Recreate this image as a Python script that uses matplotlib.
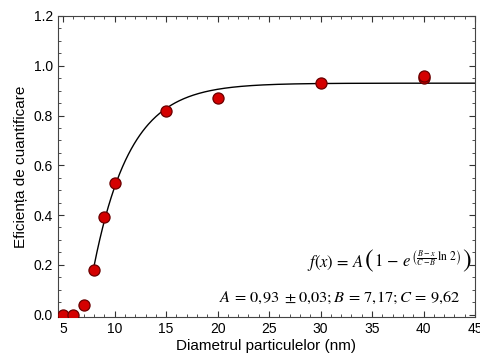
import numpy as np
import matplotlib
matplotlib.use("Agg")
import matplotlib.pyplot as plt
from matplotlib.ticker import MultipleLocator
from matplotlib.offsetbox import TextArea, HPacker, AnchoredOffsetbox

plt.rcParams['font.family'] = ['Liberation Sans', 'DejaVu Sans']
plt.rcParams['mathtext.fontset'] = 'stix'

diam = [5, 6, 7, 8, 9, 10, 15, 20, 30, 40, 40]
eff = [0.0, 0.0, 0.04, 0.18, 0.39, 0.53, 0.82, 0.87, 0.93, 0.95, 0.96]
A, B, C = 0.93, 7.17, 9.62
fit_range = [8, 45]

fig = plt.figure(figsize=(4.81, 3.64), dpi=100)
ax = fig.add_axes([58/481, 1-317/364, (475-58)/481, (317-16)/364])

xf = np.linspace(fit_range[0], fit_range[1], 400)
yf = A * (1 - np.exp((B - xf) / (C - B) * np.log(2)))
ax.plot(xf, yf, color='black', lw=1.0, zorder=2)
ax.plot(diam, eff, 'o', ms=8, mfc='#d40000', mec='#6a0000', mew=0.9, zorder=3)

ax.set_xlim(4.5, 45)
ax.set_ylim(-0.01, 1.2)
ax.xaxis.set_major_locator(MultipleLocator(5))
ax.xaxis.set_minor_locator(MultipleLocator(1))
ax.yaxis.set_major_locator(MultipleLocator(0.2))
ax.yaxis.set_minor_locator(MultipleLocator(0.05))
ax.yaxis.set_major_formatter(matplotlib.ticker.FormatStrFormatter('%.1f'))
ax.tick_params(which='both', direction='in', top=True, right=True, labelsize=10, colors='#333333', labelcolor='black')
ax.tick_params(which='major', length=4, width=0.8)
ax.tick_params(which='minor', length=2.5, width=0.6)
for s in ax.spines.values():
    s.set_color('#444444')
    s.set_linewidth(0.8)

ax.set_xlabel('Diametrul particulelor (nm)', fontsize=11, labelpad=2)
ax.set_ylabel('Eficiența de cuantificare', fontsize=11, labelpad=4)

fs = 12
p1 = TextArea(r'$f(x)\,=\,A$', textprops=dict(fontsize=fs))
lp = TextArea('(', textprops=dict(fontsize=19, family='STIXGeneral'))
p2 = TextArea(r'$1\,-\,e^{\left(\frac{B-x}{C-B}\,\ln\,2\right)}$', textprops=dict(fontsize=fs))
rp = TextArea(')', textprops=dict(fontsize=19, family='STIXGeneral'))
pack = HPacker(children=[p1, lp, p2, rp], align='baseline', pad=0, sep=0.5)
ab = AnchoredOffsetbox(loc='center right', child=pack, frameon=False,
                       bbox_to_anchor=(0.99, 0.185), bbox_transform=ax.transAxes, pad=0, borderpad=0)
ax.add_artist(ab)

ax.text(0.965, 0.062, r'$A\,=\,0{,}93\ \pm 0{,}03; B\,=\,7{,}17; C\,=\,9{,}62$',
        transform=ax.transAxes, ha='right', va='center', fontsize=11.8)

fig.savefig('out.png', dpi=100)
